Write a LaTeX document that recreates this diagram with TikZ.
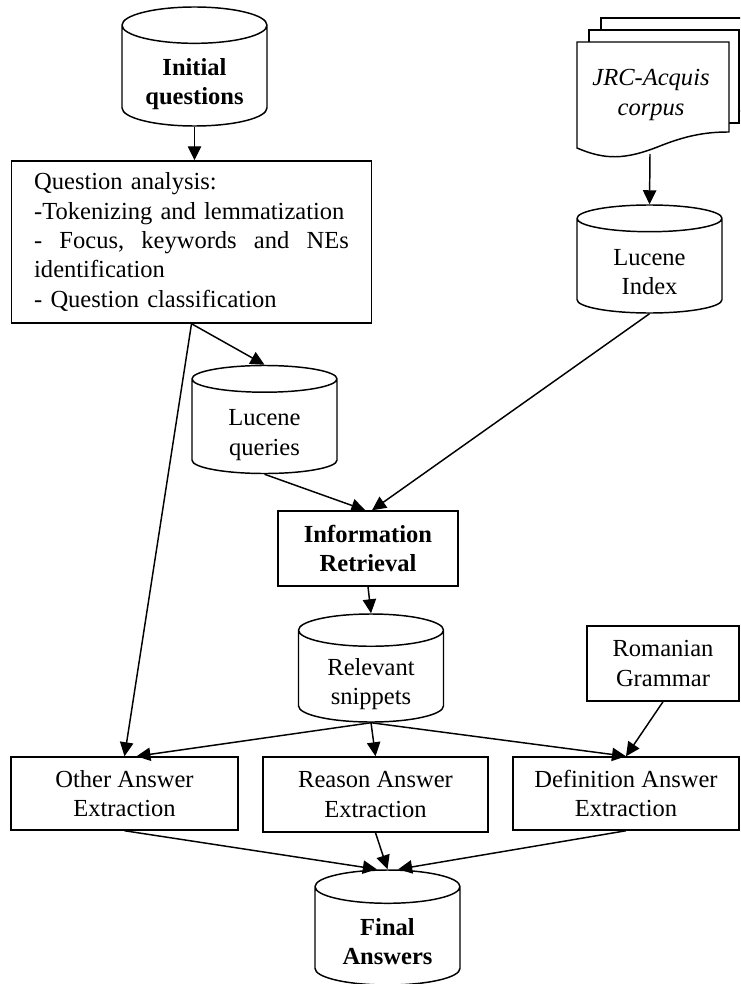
\documentclass[tikz,border=0pt]{standalone}
\usepackage{fontspec}
\setmainfont{Liberation Serif}
\usetikzlibrary{shapes.geometric,arrows.meta}
\newcommand\txtsz{\fontsize{18.4}{22}\selectfont}
% text of a store, set a little below the middle of the drum
\newcommand\dblab[1]{\raisebox{-6pt}[\height][\depth]{\begin{tabular}{@{}c@{}}#1\end{tabular}}}

\begin{document}
\begin{tikzpicture}[x=0.75pt,y=-0.75pt,
    font=\txtsz, line width=1.1pt,
    box/.style={draw,fill=white,align=center,inner sep=2pt},
    db/.style={cylinder,shape border rotate=90,draw,fill=white,aspect=0.37,
      anchor=shape center,minimum width=108.75pt,minimum height=81pt,
      inner sep=0pt},
    arw/.style={-{Triangle[length=10.5pt,width=10pt]}} ]
  \clip (0,0) rectangle (740,984);
  % pile of pages
  \draw[fill=white] (601,18) rectangle (752,111);
  \draw[fill=white] (589,30) rectangle (739,123);
  \draw[fill=white] (577,148) -- (577,42) -- (729,42) -- (729,132)
    .. controls (710,132) and (690,134) .. (660,146)
    .. controls (625,160) and (605,160) .. cycle;
  \node[font=\txtsz\itshape,align=center] (doc) at (651,95) {JRC-Acquis\\corpus};
  \coordinate (docb) at (650,154);
  % stores
  \node[db,minimum height=89.25pt,font=\txtsz\bfseries] (iq) at (194.5,66.5) {\dblab{Initial\\questions}};
  \node[db] (li) at (649.5,259) {\dblab{Lucene\\Index}};
  \node[db] (lq) at (264.5,419.5) {\dblab{Lucene\\queries}};
  \node[db] (rs) at (371,668) {\dblab{Relevant\\snippets}};
  \node[db,minimum height=86.25pt,font=\txtsz\bfseries] (fa) at (387.5,927.5) {\dblab{Final\\Answers}};
  % steps
  \node[box,align=left,text width=236pt,inner xsep=17pt,minimum height=121.5pt] (qa) at (191.5,242)
    {Question analysis:\\
     -Tokenizing and lemmatization\\
     \makebox[236pt][l]{-\hfill Focus,\hfill keywords\hfill and\hfill NEs}\\
     identification\\
     - Question classification};
  \node[box,minimum width=135pt,minimum height=56.25pt,font=\txtsz\bfseries] (ir) at (368,548.5) {Information\\Retrieval};
  \node[box,minimum width=114pt,minimum height=56.25pt] (rg) at (663,663.5) {Romanian\\Grammar};
  \node[box,minimum width=170.25pt,minimum height=54.75pt] (oa) at (124.5,793.5) {Other Answer\\Extraction};
  \node[box,minimum width=168.75pt,minimum height=56.25pt] (ra) at (375.5,794.5) {Reason Answer\\Extraction};
  \node[box,minimum width=169.5pt,minimum height=54.75pt] (da) at (626,793.5) {Definition Answer\\Extraction};
  % flow
  \draw[arw] (iq.south) -- (iq.south |- qa.north);
  \draw[arw] (docb) -- (li.north);
  \draw[arw] (qa.south) -- (lq.north);
  \draw[arw] (qa.south) -- (oa.north);
  \draw[arw] (lq.south) -- ([xshift=-2pt]ir.north);
  \draw[arw] (li.south) -- ([xshift=3pt]ir.north);
  \draw[arw] (ir.south) -- (rs.north);
  \draw[arw] (rs.south) -- ([xshift=9pt]oa.north);
  \draw[arw] (rs.south) -- (ra.north);
  \draw[arw] (rs.south) -- (da.north);
  \draw[arw] (rg.south) -- (da.north);
  \draw[arw] (oa.south) -- ([xshift=-8pt]fa.north);
  \draw[arw] (ra.south) -- (fa.north);
  \draw[arw] (da.south) -- ([xshift=8pt]fa.north);
\end{tikzpicture}
\end{document}
